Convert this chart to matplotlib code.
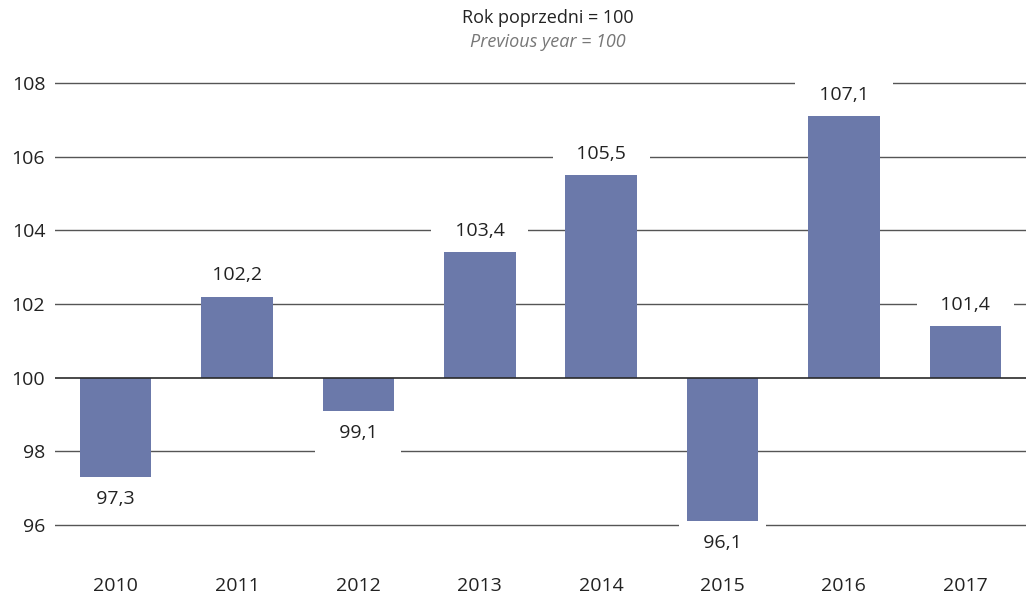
import numpy as np
import matplotlib
matplotlib.use('Agg')
import matplotlib.pyplot as plt

plt.rcParams['font.family'] = ['Open Sans', 'DejaVu Sans']

# Dane
lata = ['2010', '2011', '2012', '2013', '2014', '2015', '2016', '2017']
wartosci = [97.3, 102.2, 99.1, 103.4, 105.5, 96.1, 107.1, 101.4]
etykiety_y = [96, 98, 100, 102, 104, 106, 108]
baza = 100

kolor = '#6b79aa'

fig = plt.figure(figsize=(10.26, 5.94), dpi=100)
ax = fig.add_axes([0.0536, 0.0852, 0.9464, 0.806])

x = np.arange(len(lata))
w = np.array(wartosci)
ax.bar(x, w - baza, bottom=baza, width=0.59, color=kolor, zorder=3)

# linie siatki
for y in etykiety_y:
    if y == baza:
        ax.axhline(y, color='#2a2a2a', lw=1.2, zorder=4)
    else:
        ax.axhline(y, color='#555555', lw=1.0, zorder=1)

# etykiety wartosci z bialym tlem (tlo przerywa linie siatki)
for xi, v in zip(x, wartosci):
    txt = ('%.1f' % v).replace('.', ',')
    if v >= baza:
        ypos = v + 0.58
    else:
        ypos = v - 0.6
    ax.text(xi, ypos, '  ' + txt + '  ', ha='center', va='center', fontsize=14,
            color='#222222', zorder=2,
            bbox=dict(boxstyle='square,pad=0.7', fc='white', ec='none'))

ax.set_xlim(-0.5, 7.5)
ax.set_ylim(95.5, 108.5)
ax.set_yticks(etykiety_y)
ax.set_yticklabels([str(v) for v in etykiety_y])
ax.set_xticks(x)
ax.set_xticklabels(lata)
ax.tick_params(axis='both', length=0, labelsize=14, colors='#222222')
ax.tick_params(axis='y', pad=7)
ax.tick_params(axis='x', pad=24)
for s in ax.spines.values():
    s.set_visible(False)

fig.text(548 / 1026, 1 - 18 / 594, 'Rok poprzedni = 100', ha='center', va='center',
         fontsize=13, color='#222222')
fig.text(548 / 1026, 1 - 42 / 594, 'Previous year = 100', ha='center', va='center',
         fontsize=13, color='#777777', style='italic')

fig.savefig('out.png', dpi=100)
